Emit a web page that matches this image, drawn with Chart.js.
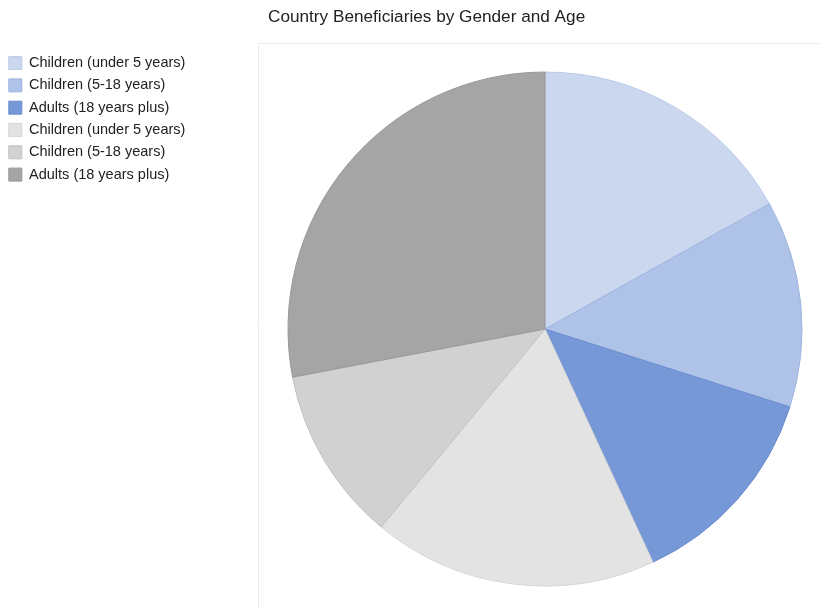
<!DOCTYPE html>
<html><head><meta charset="utf-8">
<script src="https://cdn.jsdelivr.net/npm/chart.js@4/dist/chart.umd.min.js"></script>
<style>html,body{margin:0;padding:0;background:#fff;overflow:hidden;width:820px;height:609px;}#wrap{width:832px;height:612px;}</style>
</head><body><div id="wrap"><canvas id="c" width="832" height="612"></canvas></div>
<script>
const chartTitle = 'Country Beneficiaries by Gender and Age';
const categories = ['Children (under 5 years)', 'Children (5-18 years)', 'Adults (18 years plus)',
                    'Children (under 5 years)', 'Children (5-18 years)', 'Adults (18 years plus)'];
const values = [16.9, 13.0, 13.2, 17.9, 11.0, 28.0];
const sliceColors = ['#cad7ef', '#afc2e7', '#7798d6', '#e3e3e3', '#d1d1d1', '#a5a5a5'];
const sliceBorders = ['#bccbe8', '#9fb5e0', '#6a8dcf', '#d6d6d6', '#c2c2c2', '#989898'];

const FONT = '"Liberation Sans", Arial, sans-serif';

const legendWidthPlugin = {
  id: 'legendWidth',
  beforeInit(chart) {
    const lg = chart.legend;
    const fit = lg.fit;
    lg.fit = function () { fit.call(this); this.width = 258; };
  }
};
const frameAndTitlePlugin = {
  id: 'frameAndTitle',
  afterLayout(chart) {
    const t = chart.titleBlock;
    if (t) { t.left = chart.chartArea.left + 10; }
    const lg = chart.legend;
    if (lg) { lg.top += 2; lg.left += 1; }
  },
  beforeDatasetsDraw(chart) {
    const {ctx, chartArea} = chart;
    ctx.save();
    ctx.strokeStyle = '#ececec';
    ctx.lineWidth = 1;
    ctx.beginPath();
    const x = Math.round(chartArea.left) + 0.5;
    const y = Math.round(chartArea.top) - 3 + 0.5;
    ctx.moveTo(x, chart.height);
    ctx.lineTo(x, y);
    ctx.lineTo(chart.width, y);
    ctx.stroke();
    ctx.restore();
  }
};

new Chart(document.getElementById('c'), {
  type: 'pie',
  data: {
    labels: categories,
    datasets: [{
      data: values,
      backgroundColor: sliceColors,
      borderColor: sliceBorders,
      borderWidth: 1,
      radius: 257
    }]
  },
  options: {
    responsive: false,
    animation: false,
    layout: { padding: 0 },
    plugins: {
      title: {
        display: true,
        text: chartTitle,
        align: 'start',
        color: '#222',
        font: { family: FONT, size: 17.2, weight: 'normal' },
        padding: { top: 6.9, bottom: 18.5 }
      },
      legend: {
        position: 'left',
        align: 'start',
        fullSize: false,
        labels: {
          boxWidth: 13,
          boxHeight: 13,
          padding: 7.8,
          color: '#222',
          font: { family: FONT, size: 14.5 }
        }
      },
      tooltip: { enabled: false }
    }
  },
  plugins: [legendWidthPlugin, frameAndTitlePlugin]
});
</script>
</body></html>
